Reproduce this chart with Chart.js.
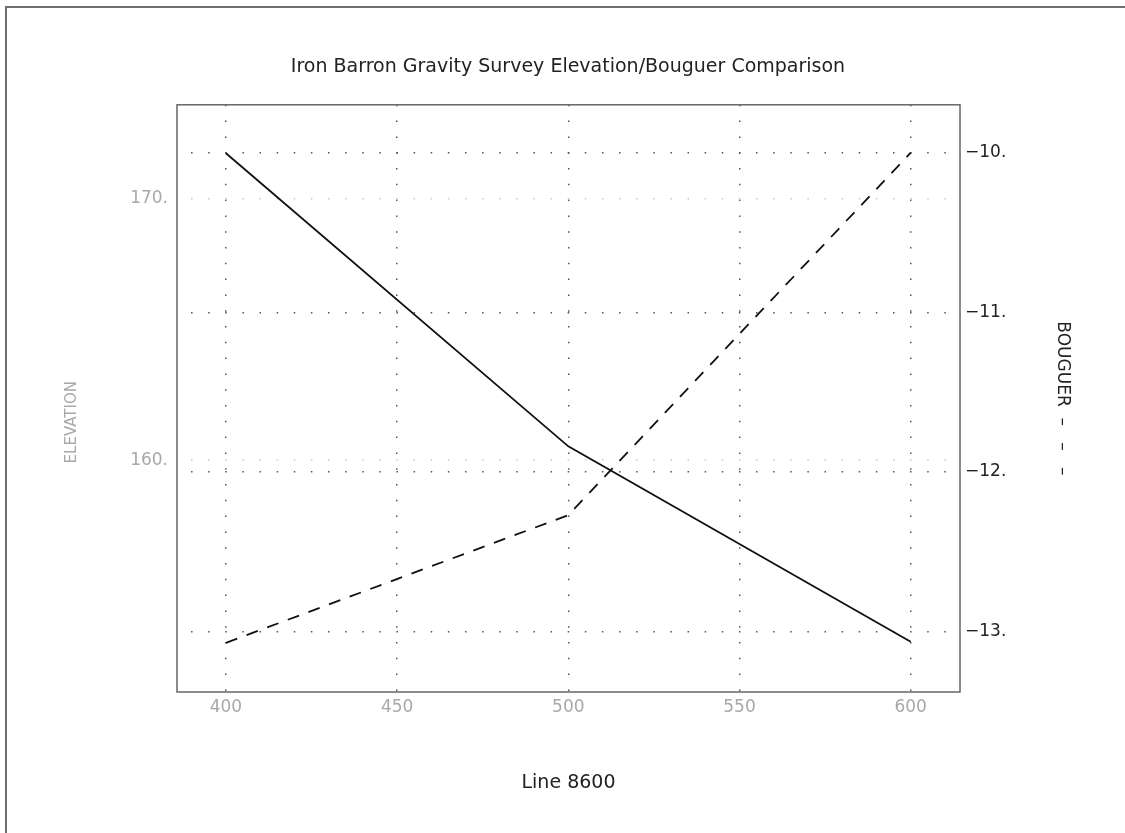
<!DOCTYPE html>
<html>
<head>
<meta charset="utf-8">
<title>Iron Barron Gravity Survey</title>
<script src="https://cdn.jsdelivr.net/npm/chart.js@4.4.1/dist/chart.umd.min.js"></script>
<style>
  html, body { margin: 0; padding: 0; background: #fff; }
  #wrap { position: relative; width: 1125px; height: 833px; overflow: hidden; }
  #frame {
    position: absolute; left: 5px; top: 6px; right: -10px; bottom: -10px;
    border-left: 2px solid #6e6e6e; border-top: 2px solid #6e6e6e;
    pointer-events: none;
  }
  canvas { position: absolute; left: 0; top: 0; }
</style>
</head>
<body>
<div id="wrap">
  <canvas id="surveyChart" width="1125" height="833"></canvas>
  <div id="frame"></div>
</div>
<script>
// Survey stations along Line 8600 and readings at each one
const stations = [400, 500, 600];
const elevation = [171.72, 160.53, 153.07];
const bouguer = [-13.07, -12.27, -10.0];

// Axis ticks and their labels
const stationTicks = [400, 450, 500, 550, 600];
const stationLabels = ['400', '450', '500', '550', '600'];
const elevationTicks = [160, 170];
const elevationLabels = ['160.', '170.'];
const bouguerTicks = [-13, -12, -11, -10];
const bouguerLabels = ['\u221213.', '\u221212.', '\u221211.', '\u221210.'];

const FONT = 'DejaVu Sans';

// Box around the plotting area
const plotBox = {
    id: 'plotBox',
    afterDatasetsDraw(chart) {
        const { ctx, chartArea: a } = chart;
        ctx.save();
        ctx.strokeStyle = '#666';
        ctx.lineWidth = 1.5;
        ctx.strokeRect(a.left, a.top, a.right - a.left, a.bottom - a.top);
        ctx.restore();
    }
};

function fixedTicks(values) {
    return function(scale) {
        scale.ticks = values.map(v => ({ value: v }));
    };
}

function labelFor(values, labels) {
    return function(value) {
        const i = values.indexOf(value);
        return i >= 0 ? labels[i] : '';
    };
}

const ctx = document.getElementById('surveyChart').getContext('2d');

new Chart(ctx, {
    type: 'line',
    data: {
        datasets: [{
            label: 'Elevation',
            data: stations.map((s, i) => ({ x: s, y: elevation[i] })),
            yAxisID: 'yElev',
            borderColor: '#111',
            borderWidth: 1.8,
            pointRadius: 0,
            tension: 0,
            fill: false
        }, {
            label: 'Bouguer',
            data: stations.map((s, i) => ({ x: s, y: bouguer[i] })),
            yAxisID: 'yBoug',
            borderColor: '#111',
            borderWidth: 1.8,
            borderDash: [12, 10],
            pointRadius: 0,
            tension: 0,
            fill: false
        }]
    },
    options: {
        responsive: false,
        animation: false,
        devicePixelRatio: 1,
        layout: { padding: { left: 11, right: 0, top: 0, bottom: 0 } },
        plugins: {
            legend: { display: false },
            tooltip: { enabled: false },
            title: {
                display: true,
                text: 'Iron Barron Gravity Survey Elevation/Bouguer Comparison',
                color: '#222',
                font: { family: FONT, size: 19, weight: 'normal', lineHeight: 1.2 },
                padding: { top: 56, bottom: 26 }
            }
        },
        scales: {
            x: {
                type: 'linear',
                min: 385.7,
                max: 614.4,
                afterBuildTicks: fixedTicks(stationTicks),
                afterFit: function(scale) { scale.height = 141; },
                ticks: {
                    autoSkip: false,
                    maxRotation: 0,
                    padding: 5,
                    color: '#a8a8a8',
                    font: { family: FONT, size: 17 },
                    callback: labelFor(stationTicks, stationLabels)
                },
                grid: { color: '#555', lineWidth: 1.5, drawTicks: false },
                border: { display: false, dash: [1.5, 14.3], dashOffset: 0 },
                title: {
                    display: true,
                    text: 'Line 8600',
                    color: '#222',
                    font: { family: FONT, size: 19, lineHeight: 1.2 },
                    padding: { top: 0, bottom: 39 }
                }
            },
            yElev: {
                type: 'linear',
                position: 'left',
                min: 151.15,
                max: 173.57,
                afterBuildTicks: fixedTicks(elevationTicks),
                afterFit: function(scale) { scale.width = 166; },
                ticks: {
                    autoSkip: false,
                    padding: 9,
                    color: '#a8a8a8',
                    font: { family: FONT, size: 17 },
                    callback: labelFor(elevationTicks, elevationLabels)
                },
                grid: { color: '#c8c8c8', lineWidth: 1.5, drawTicks: false },
                border: { display: false, dash: [1.5, 15.62], dashOffset: 3.07 },
                title: {
                    display: true,
                    text: 'ELEVATION          ',
                    color: '#a8a8a8',
                    font: { family: FONT, size: 15, lineHeight: 1.2 },
                    padding: { top: 52, bottom: 0 }
                }
            },
            yBoug: {
                type: 'linear',
                position: 'right',
                min: -13.378,
                max: -9.70,
                afterBuildTicks: fixedTicks(bouguerTicks),
                afterFit: function(scale) { scale.width = 165; },
                ticks: {
                    autoSkip: false,
                    padding: 5,
                    color: '#222',
                    font: { family: FONT, size: 17 },
                    callback: labelFor(bouguerTicks, bouguerLabels)
                },
                grid: { color: '#555', lineWidth: 1.5, drawTicks: false },
                border: { display: false, dash: [1.5, 15.62], dashOffset: 3.07 },
                title: {
                    display: true,
                    text: 'BOUGUER  \u2013   \u2013   \u2013',
                    color: '#222',
                    font: { family: FONT, size: 17, lineHeight: 1.2 },
                    padding: { top: 52, bottom: 0 }
                }
            }
        }
    },
    plugins: [plotBox]
});
</script>
</body>
</html>
